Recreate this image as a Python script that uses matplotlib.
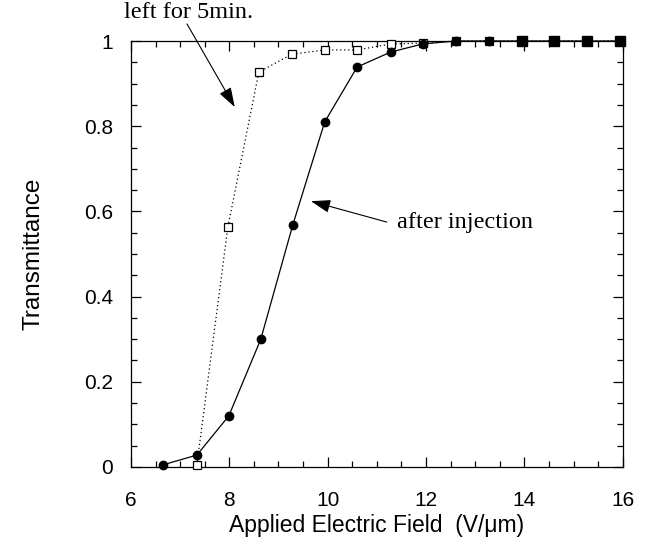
import matplotlib
matplotlib.use("Agg")
import matplotlib.pyplot as plt
from matplotlib.ticker import MultipleLocator, FormatStrFormatter

# field strength (V/um) and transmittance
after_x = [6.65, 7.34, 7.99, 8.64, 9.29, 9.94, 10.6, 11.28, 11.93, 12.6, 13.28, 13.95, 14.6, 15.27, 15.94]
after_y = [0.005, 0.028, 0.12, 0.30, 0.568, 0.81, 0.939, 0.974, 0.993, 1.0, 1.0, 1.0, 1.0, 1.0, 1.0]

left_x = [7.34, 7.97, 8.6, 9.27, 9.94, 10.6, 11.28, 11.93, 12.6, 13.28, 13.95, 14.6, 15.27, 15.94]
left_y = [0.005, 0.563, 0.927, 0.969, 0.979, 0.979, 0.993, 0.995, 1.0, 1.0, 1.0, 1.0, 1.0, 1.0]

x_ticks = [6, 8, 10, 12, 14, 16]
y_ticks = [0, 0.2, 0.4, 0.6, 0.8, 1]

sans = ["Liberation Sans", "DejaVu Sans"]
serif = ["Liberation Serif", "DejaVu Serif"]

fig = plt.figure(figsize=(6.5, 5.46), dpi=100)
ax = fig.add_axes([0.2015, 0.1447, 0.7565, 0.7802])

ax.plot(left_x, left_y, color="black", linestyle=(0, (1, 2.2)), linewidth=0.9,
        marker="s", markersize=6, markerfacecolor="white", markeredgecolor="black",
        markeredgewidth=0.9, clip_on=False, zorder=3)
# the last squares overlap the circles and print as solid blocks
ax.plot(left_x[-4:], left_y[-4:], linestyle="none", marker="s", markersize=7.5,
        color="black", clip_on=False, zorder=5)
ax.plot(after_x, after_y, color="black", linewidth=0.9, marker="o", markersize=6,
        clip_on=False, zorder=4)

ax.set_xlim(6, 16)
ax.set_ylim(0, 1)
ax.set_xticks(x_ticks)
ax.set_yticks(y_ticks)
ax.xaxis.set_minor_locator(MultipleLocator(0.5))
ax.yaxis.set_minor_locator(MultipleLocator(0.05))
ax.xaxis.set_major_formatter(FormatStrFormatter("%g"))
ax.yaxis.set_major_formatter(FormatStrFormatter("%g"))

ax.tick_params(which="both", direction="in", top=True, right=True, width=0.9)
ax.tick_params(which="major", length=7)
ax.tick_params(which="minor", length=4)
ax.tick_params(axis="x", which="major", pad=17)
ax.tick_params(axis="y", which="major", pad=13)
for lab in ax.get_xticklabels() + ax.get_yticklabels():
    lab.set_fontfamily(sans)
    lab.set_fontsize(15)
for sp in ax.spines.values():
    sp.set_linewidth(0.9)

ax.set_xlabel("Applied Electric Field  (V/\u03bcm)", fontfamily=sans, fontsize=16.5, labelpad=3)
ax.set_ylabel("Transmittance", fontfamily=sans, fontsize=17.5, labelpad=28)

arrow = dict(arrowstyle="-|>,head_length=1.2,head_width=0.4", color="black",
             linewidth=0.8, shrinkA=0, shrinkB=0)
ax.annotate("", xy=(8.11, 0.845), xytext=(7.14, 1.04), arrowprops=arrow,
            annotation_clip=False)
ax.text(7.18, 1.068, "left for 5min.", fontfamily=serif, fontsize=17.5,
        ha="center", va="center", clip_on=False)
ax.annotate("", xy=(9.66, 0.624), xytext=(11.2, 0.575), arrowprops=arrow)
ax.text(11.41, 0.575, "after injection", fontfamily=serif, fontsize=17.5,
        ha="left", va="center")

fig.savefig("out.png", dpi=100)
